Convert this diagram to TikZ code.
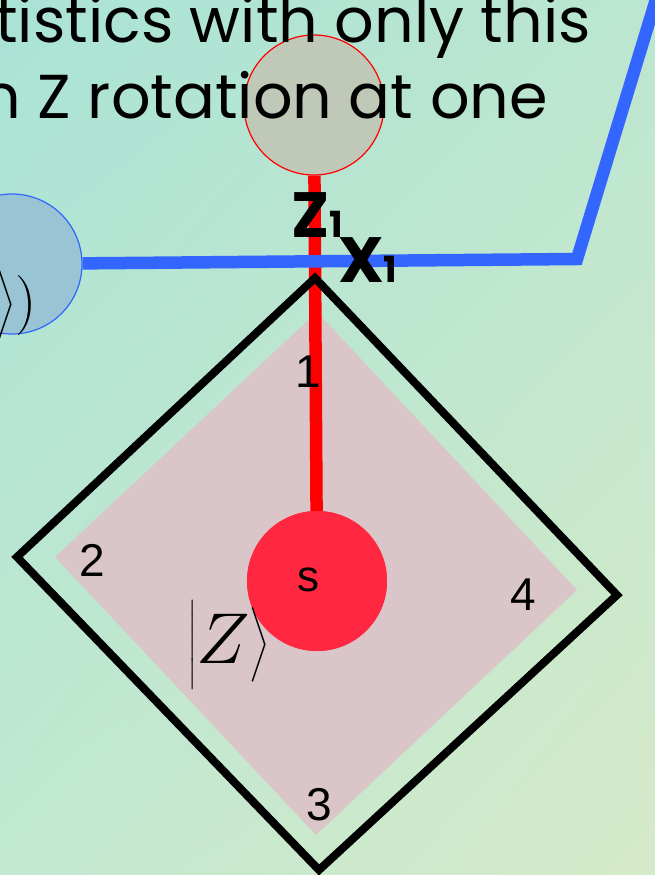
\RequirePackage{fix-cm}
\documentclass[tikz,border=0pt]{standalone}
\usepackage{amsmath}
\usepackage{fontspec}
\newfontfamily\handfont{Poppins}
\newfontfamily\arialfont{Liberation Sans}
\usetikzlibrary{positioning,shadings}
\definecolor{bgtl}{HTML}{A9E3D6}
\definecolor{bgtr}{HTML}{BCE6D0}
\definecolor{bgbl}{HTML}{C2E8D0}
\definecolor{bgbr}{HTML}{D5EAC8}
\definecolor{siteblue}{HTML}{98C4D4}
\definecolor{sitegrey}{HTML}{C0C8B8}
\definecolor{spinred}{HTML}{FF2840}
\definecolor{plaqpink}{HTML}{DAC6C8}
\definecolor{linkblue}{HTML}{3366FF}

\begin{document}
\begin{tikzpicture}[x=1pt,y=-1pt,
  site/.style={circle, minimum size=140pt, inner sep=0pt},
  hand/.style={font=\handfont\fontsize{62}{62}\selectfont, inner sep=0pt},
  oplabel/.style={font=\handfont\bfseries\fontsize{64}{64}\selectfont, inner sep=0pt},
  num/.style={font=\arialfont\fontsize{46}{46}\selectfont, inner sep=0pt},
  zlink/.style={red, line width=12.5pt},
  xlink/.style={linkblue, line width=12.5pt},
]
\useasboundingbox (0,0) rectangle (655,875);
\shade[upper left=bgtl, upper right=bgtr, lower left=bgbl, lower right=bgbr] (0,0) rectangle (655,875);

% neighbouring sites
\node[site, fill=sitegrey, draw=red, line width=1.2pt] (zsite) at (314,105) {};
\node[site, fill=siteblue, draw=linkblue, line width=1.2pt] (xsite) at (12,264) {};
\node[font=\fontsize{60}{60}\selectfont, inner sep=0pt, anchor=east] (xket) at (37,305) {$\bigr\rangle)$};

% caption lines
\node[hand, anchor=base east] (cap1) at (591,43) {tistics with only this};
\node[hand, anchor=base east] (cap2) at (548,118) {n Z rotation at one};

% plaquette
\fill[plaqpink] (317,312) -- (577,590) -- (316,835) -- (55,557) -- cycle;
\node[site, fill=spinred] (s) at (317,581) {};
\draw[zlink] (zsite) -- (s);
\draw[line width=8pt] (315,278) -- (617,595) -- (319,870) -- (17,557) -- cycle;

% x link
\coordinate (bend) at (577,259);
\coordinate (tip) at (661,-17);
\draw[xlink] (xsite) -- (bend) -- (tip);
\node[site, fill=spinred] at (s) {};

% labels
\node[font=\arialfont\fontsize{44}{44}\selectfont, inner sep=0pt] (slab) at (308,580) {s};
\node[font=\fontsize{72}{72}\selectfont, inner sep=0pt] (zket) at (229,645) {$\bigl|Z\bigr\rangle$};
\node[num] (n1) at (308,372) {1};
\node[num] (n2) at (92,560) {2};
\node[num] (n3) at (319,805) {3};
\node[num] (n4) at (523,595) {4};
\node[oplabel, anchor=base west] (zop) at (291,237) {Z{\fontsize{36}{36}\selectfont 1}};
\node[oplabel, anchor=base west] (xop) at (338,282) {X{\fontsize{36}{36}\selectfont 1}};
\end{tikzpicture}
\end{document}
